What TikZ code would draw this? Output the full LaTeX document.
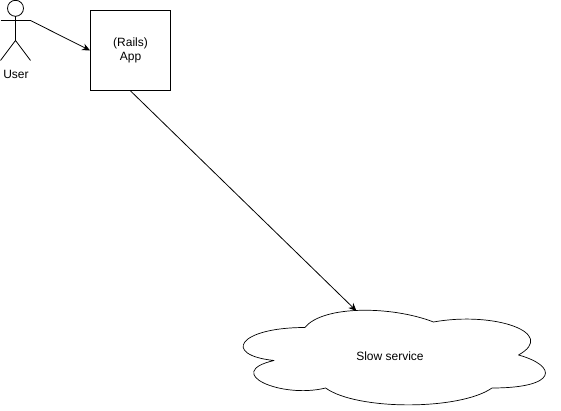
\documentclass[tikz,border=0pt]{standalone}
\usepackage{fontspec}
\setmainfont{Liberation Sans}
\usetikzlibrary{arrows.meta}
\begin{document}
\begin{tikzpicture}[x=1pt,y=-1pt,
  line/.style={draw=black,line width=0.8pt},
  conn/.style={line,-{Stealth[length=8pt,width=7pt]},shorten >=0pt},
  lab/.style={font=\fontsize{12}{14}\selectfont,align=center,text=black,inner sep=0pt}]
\useasboundingbox[fill=white] (0,0) rectangle (561,411);
% actor
\draw[line] (15.5,8.3) circle[radius=8];
\draw[line] (15.5,16.3) -- (15.5,40.5);
\draw[line] (0.5,20.5) -- (30.5,20.5);
\draw[line] (0.5,60.5) -- (15.5,40.5) -- (30.5,60.5);
\coordinate (hand) at (30.5,20.5);
\node[lab] (user) at (16,74.5) {User};
% app box
\node[line,minimum width=80pt,minimum height=80pt,inner sep=0pt,lab] (app) at (130.5,50.5) {(Rails)\\App};
% cloud
\draw[line,line join=round,line width=0.7pt] (305,327.5)
  .. controls (238,327.5) and (222,355) .. (274,360.5)
  .. controls (222,372.6) and (280.9,399) .. (325.6,388)
  .. controls (356.6,410.5) and (459.8,410.5) .. (492,388)
  .. controls (558,388) and (558,366) .. (518.5,355)
  .. controls (558,333) and (494.2,311) .. (433.5,322)
  .. controls (391,305.5) and (322.2,305.5) .. (305,327.5) -- cycle;
\coordinate (cloudtop) at (356.5,311);
\node[lab] (slow) at (390,356) {Slow service};
% connectors
\draw[conn] (hand) -- (app.west);
\draw[conn] (app.south) -- (cloudtop);
\end{tikzpicture}
\end{document}
